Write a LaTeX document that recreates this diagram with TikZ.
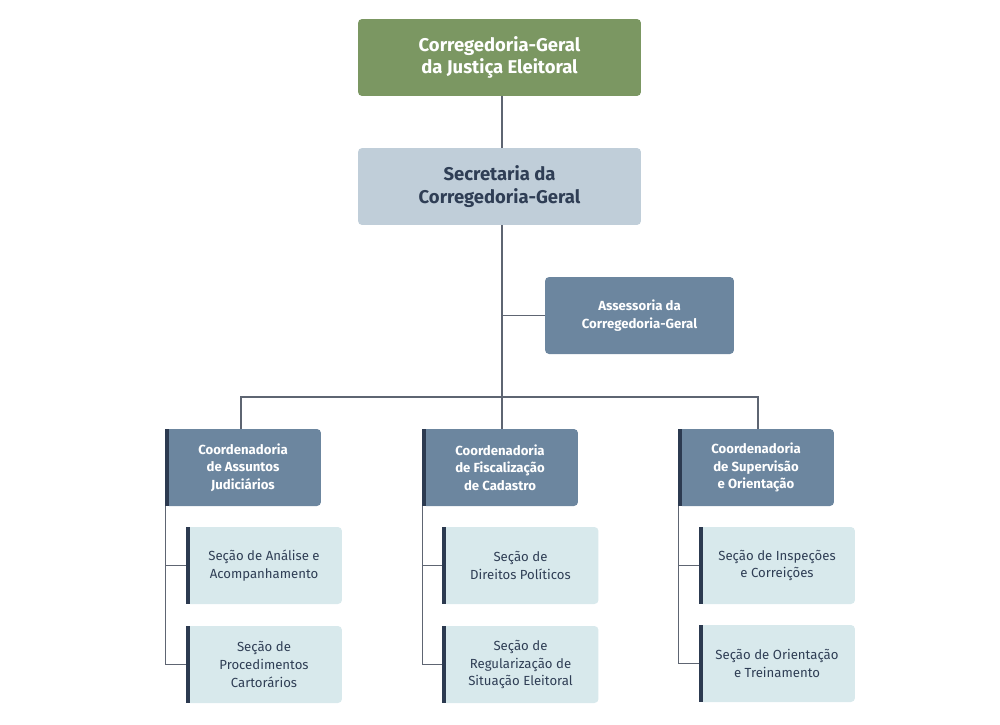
\documentclass[tikz,border=0pt]{standalone}
\usepackage{fontspec}
\setmainfont{Fira Sans}
\usetikzlibrary{positioning}
\definecolor{topgreen}{HTML}{7B9762}
\definecolor{secgray}{HTML}{C0CED9}
\definecolor{midblue}{HTML}{6C869F}
\definecolor{pale}{HTML}{D8E9EC}
\definecolor{darkbar}{HTML}{2C3A50}
\definecolor{ink}{HTML}{2F3E55}
\definecolor{wire}{HTML}{5E6572}
\tikzset{
  box/.style={rectangle, rounded corners=2.3pt, align=center, inner sep=0pt},
  head/.style={box, fill=topgreen, text=white, font=\fontsize{10.5}{13}\selectfont\bfseries, minimum width=5.66cm, minimum height=1.54cm},
  sec/.style={box, fill=secgray, text=ink, font=\fontsize{10.5}{13}\selectfont\bfseries, minimum width=5.66cm, minimum height=1.54cm},
  unit/.style={box, fill=midblue, text=white, font=\fontsize{7.5}{10}\selectfont\bfseries, minimum width=3.12cm, minimum height=1.54cm},
  part/.style={box, fill=pale, text=ink, font=\fontsize{7.5}{10}\selectfont, minimum width=3.12cm, minimum height=1.54cm},
  link/.style={draw=wire, line width=0.7pt}
}
\newcommand{\leftbar}[1]{\fill[darkbar] (#1.north west) rectangle ([xshift=0.08cm]#1.south west);}
\begin{document}
\begin{tikzpicture}[x=0.02cm, y=-0.02cm]
\useasboundingbox (0,0) rectangle (1000,724);

\node[head] (cg) at (499.5,57.5) {Corregedoria-Geral\\da Justiça Eleitoral};
\node[sec] (scg) at (499.5,186.5) {Secretaria da\\Corregedoria-Geral};
\node[unit, minimum width=3.78cm] (acg) at (639.5,315.5) {Assessoria da\\Corregedoria-Geral};

\node[unit] (caj) at (243,467.5) {Coordenadoria\\de Assuntos\\Judiciários};
\node[unit] (cfc) at (500,467.5) {Coordenadoria\\de Fiscalização\\de Cadastro};
\node[unit] (cso) at (756,467.5) {Coordenadoria\\de Supervisão\\e Orientação};

\node[part] (saa) at (264,565.5) {Seção de Análise e\\Acompanhamento};
\node[part] (spc) at (264,664.5) {Seção de\\Procedimentos\\Cartorários};
\node[part] (sdp) at (520.5,565.5) {Seção de\\Direitos Políticos};
\node[part] (srs) at (520.5,664.5) {Seção de\\Regularização de\\Situação Eleitoral};
\node[part] (sic) at (777,565.5) {Seção de Inspeções\\e Correições};
\node[part] (sot) at (777,663.5) {Seção de Orientação\\e Treinamento};

\foreach \n in {caj,cfc,cso,saa,spc,sdp,srs,sic,sot}{
  \leftbar{\n}
}

% hierarchy lines
\coordinate (fork) at (502,397);
\draw[link] (cg.south -| fork) -- (scg.north -| fork);
\draw[link] (scg.south -| fork) -- (fork);
\draw[link] (acg.west -| fork) -- (acg.west);
\draw[link] (241,429) |- (fork) -| (758,429);
\draw[link] (fork) -- (fork |- cfc.north);

\foreach \c/\a/\b in {caj/saa/spc,cfc/sdp/srs,cso/sic/sot}{
  \draw[link] ([xshift=0.02cm]\c.south west) |- (\b.west);
  \draw[link] ([xshift=0.02cm]\c.south west |- \a.west) -- (\a.west);
}
\end{tikzpicture}
\end{document}
